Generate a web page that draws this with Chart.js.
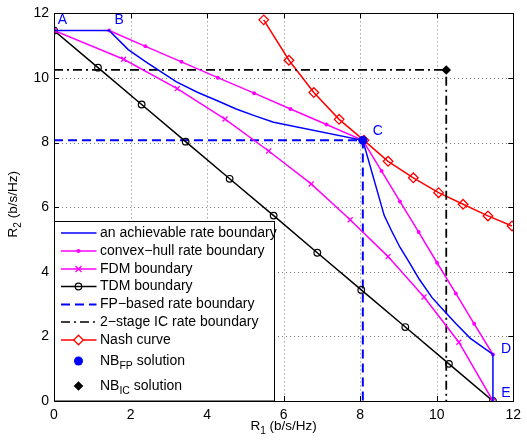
<!DOCTYPE html>
<html>
<head>
<meta charset="utf-8">
<script src="https://cdn.jsdelivr.net/npm/chart.js@4.4.0/dist/chart.umd.min.js"></script>
<style>
body { margin: 0; background: #fff; }
#wrap { width: 527px; height: 440px; }
</style>
</head>
<body>
<div id="wrap"><canvas id="rateChart"></canvas></div>
<script>
// rates in b/s/Hz, R1 on x, R2 on y
const achR1 = [0, 1.44, 1.94, 2.40, 2.73, 3.20, 3.76, 4.30, 4.76, 5.27, 5.74, 8.07, 8.63, 8.82, 9.04, 9.28, 9.55, 9.88, 10.24, 10.50, 10.88, 11.47, 11.47];
const achR2 = [11.47, 11.47, 10.88, 10.50, 10.24, 9.88, 9.55, 9.28, 9.04, 8.82, 8.63, 8.07, 5.74, 5.27, 4.76, 4.30, 3.76, 3.20, 2.73, 2.40, 1.94, 1.44, 0];

const hullR1 = [1.44, 2.39, 3.33, 4.28, 5.23, 6.18, 7.12, 8.07, 8.56, 9.04, 9.53, 10.01, 10.50, 10.98, 11.47];
const hullR2 = [11.47, 10.98, 10.50, 10.01, 9.53, 9.04, 8.56, 8.07, 7.12, 6.18, 5.23, 4.28, 3.33, 2.39, 1.44];

const fdmR1 = [0, 1.82, 3.22, 4.47, 5.61, 6.72, 7.74, 8.73, 9.67, 10.58, 11.47];
const fdmR2 = [11.47, 10.58, 9.67, 8.73, 7.74, 6.72, 5.61, 4.47, 3.22, 1.82, 0];

const tdmR1 = [0, 1.15, 2.29, 3.44, 4.59, 5.74, 6.88, 8.03, 9.18, 10.32, 11.47];
const tdmR2 = [11.47, 10.32, 9.18, 8.03, 6.88, 5.74, 4.59, 3.44, 2.29, 1.15, 0];

const fpR1 = [0, 8.07, 8.07];
const fpR2 = [8.07, 8.07, 0];

const icR1 = [0, 10.25, 10.25];
const icR2 = [10.25, 10.25, 0];

const nashR1 = [5.48, 6.14, 6.79, 7.45, 8.10, 8.73, 9.39, 10.05, 10.69, 11.34, 11.97];
const nashR2 = [11.80, 10.55, 9.55, 8.72, 8.07, 7.42, 6.91, 6.45, 6.09, 5.73, 5.42];

const nbFP = [8.07, 8.07];
const nbIC = [10.25, 10.25];

const tickVals = [0, 2, 4, 6, 8, 10, 12];
const seriesNames = ['an achievable rate boundary', 'convex\u2212hull rate boundary', 'FDM boundary', 'TDM boundary',
  'FP\u2212based rate boundary', '2\u2212stage IC rate boundary', 'Nash curve', 'NB_{FP} solution', 'NB_{IC} solution'];
const pointNames = ['A', 'B', 'C', 'D', 'E'];
const pointR1 = [0.22, 1.70, 8.46, 11.81, 11.81];
const pointR2 = [11.80, 11.80, 8.35, 1.61, 0.23];

const FONT = '"Liberation Sans", Arial, sans-serif';
const BLUE = '#0000ff', MAG = '#ff00ff', RED = '#ff0000', BLK = '#000000';

function pts(xs, ys) {
    return xs.map((v, i) => ({ x: v, y: ys[i] }));
}

// text with _{sub} parts, returns width
function subText(ctx, str, x, y, size, draw) {
    const parts = str.split(/_\{(.*?)\}/);
    let cx = x;
    parts.forEach((p, i) => {
        const sub = i % 2 === 1;
        ctx.font = (sub ? size * 0.75 : size) + 'px ' + FONT;
        if (draw) ctx.fillText(p, cx, sub ? y + size * 0.38 : y);
        cx += ctx.measureText(p).width;
    });
    return cx - x;
}

function mark(ctx, style, x, y) {
    ctx.save();
    ctx.setLineDash([]);
    ctx.beginPath();
    if (style === 'circle') {
        ctx.lineWidth = 1.2;
        ctx.arc(x, y, 3.3, 0, Math.PI * 2);
        ctx.stroke();
    } else if (style === 'dot') {
        ctx.arc(x, y, 2, 0, Math.PI * 2);
        ctx.fill();
    } else if (style === 'big') {
        ctx.arc(x, y, 4.5, 0, Math.PI * 2);
        ctx.fill();
    } else if (style === 'cross') {
        ctx.lineWidth = 1.3;
        ctx.moveTo(x - 3, y - 3); ctx.lineTo(x + 3, y + 3);
        ctx.moveTo(x + 3, y - 3); ctx.lineTo(x - 3, y + 3);
        ctx.stroke();
    } else if (style === 'diamond' || style === 'fdiamond') {
        const r = 4.8;
        ctx.lineWidth = 1.3;
        ctx.moveTo(x, y - r); ctx.lineTo(x + r, y); ctx.lineTo(x, y + r); ctx.lineTo(x - r, y); ctx.closePath();
        if (style === 'fdiamond') ctx.fill(); else { ctx.fillStyle = '#fff'; ctx.fill(); ctx.stroke(); }
    }
    ctx.restore();
}

const legendRows = [
    { color: BLUE, width: 1.5, dash: [], mark: null },
    { color: MAG, width: 1.5, dash: [], mark: 'dot' },
    { color: MAG, width: 1.5, dash: [], mark: 'cross' },
    { color: BLK, width: 1.5, dash: [], mark: 'circle' },
    { color: BLUE, width: 2, dash: [9, 5], mark: null },
    { color: BLK, width: 1.5, dash: [9, 4, 2, 4], mark: null },
    { color: RED, width: 1.5, dash: [], mark: 'diamond' },
    { color: BLUE, width: 0, dash: [], mark: 'big' },
    { color: BLK, width: 0, dash: [], mark: 'fdiamond' }
];
const legendY = [233, 251, 269, 286.5, 304.5, 322, 340, 361, 386];

const decor = {
    id: 'decor',
    beforeDatasetsDraw(chart) {
        const { ctx, chartArea: a, scales: { x, y } } = chart;
        ctx.save();
        ctx.strokeStyle = '#7a7a7a';
        ctx.lineWidth = 1;
        ctx.setLineDash([1, 3]);
        tickVals.forEach(v => {
            if (v <= 0 || v >= 12) return;
            const px = Math.round(x.getPixelForValue(v)) + 0.5;
            const py = Math.round(y.getPixelForValue(v)) + 0.5;
            ctx.beginPath();
            ctx.moveTo(px, a.top); ctx.lineTo(px, a.bottom);
            ctx.moveTo(a.left, py); ctx.lineTo(a.right, py);
            ctx.stroke();
        });
        ctx.restore();
    },
    afterDatasetsDraw(chart) {
        const { ctx, chartArea: a, scales: { x, y } } = chart;
        ctx.save();
        // point labels
        ctx.fillStyle = BLUE;
        ctx.font = '14px ' + FONT;
        ctx.textAlign = 'center';
        ctx.textBaseline = 'middle';
        pointNames.forEach((n, i) => {
            ctx.fillText(n, x.getPixelForValue(pointR1[i]), y.getPixelForValue(pointR2[i]));
        });

        // legend box
        const lx0 = a.left, lx1 = 274.5, ly0 = 221.5;
        ctx.fillStyle = '#fff';
        ctx.fillRect(lx0, ly0, lx1 - lx0, a.bottom - ly0);
        ctx.strokeStyle = BLK;
        ctx.lineWidth = 1;
        ctx.strokeRect(lx0 + 0.5, ly0, lx1 - lx0 - 0.5, a.bottom - ly0);
        ctx.textAlign = 'left';
        ctx.textBaseline = 'middle';
        legendRows.forEach((r, i) => {
            const ly = legendY[i];
            ctx.strokeStyle = r.color;
            ctx.fillStyle = r.color;
            if (r.width > 0) {
                ctx.lineWidth = r.width;
                ctx.setLineDash(r.dash);
                ctx.beginPath();
                ctx.moveTo(61, ly); ctx.lineTo(96.5, ly);
                ctx.stroke();
            }
            if (r.mark) mark(ctx, r.mark, 78.5, ly);
            ctx.fillStyle = '#000';
            subText(ctx, seriesNames[i], 100, ly, 14, true);
        });

        // frame and inner ticks
        ctx.setLineDash([]);
        ctx.strokeStyle = BLK;
        ctx.lineWidth = 1;
        ctx.strokeRect(Math.round(a.left) + 0.5, Math.round(a.top) + 0.5, Math.round(a.right - a.left), Math.round(a.bottom - a.top));
        ctx.beginPath();
        tickVals.forEach(v => {
            const px = Math.round(x.getPixelForValue(v)) + 0.5;
            const py = Math.round(y.getPixelForValue(v)) + 0.5;
            ctx.moveTo(px, a.top); ctx.lineTo(px, a.top + 5);
            if (px > 280) { ctx.moveTo(px, a.bottom); ctx.lineTo(px, a.bottom - 5); }
            ctx.moveTo(a.right, py); ctx.lineTo(a.right - 5, py);
            if (py < 220) { ctx.moveTo(a.left, py); ctx.lineTo(a.left + 5, py); }
        });
        ctx.stroke();
        ctx.restore();
    },
    afterDraw(chart) {
        const { ctx, chartArea: a } = chart;
        ctx.save();
        ctx.fillStyle = BLK;
        ctx.textAlign = 'left';
        ctx.textBaseline = 'middle';
        const t1 = 'R_{1} (b/s/Hz)';
        const w1 = subText(ctx, t1, 0, 0, 13.5, false);
        subText(ctx, t1, (a.left + a.right) / 2 - w1 / 2, 426, 13.5, true);
        const t2 = 'R_{2} (b/s/Hz)';
        const w2 = subText(ctx, t2, 0, 0, 13.5, false);
        ctx.translate(13, (a.top + a.bottom) / 2 - 3);
        ctx.rotate(-Math.PI / 2);
        subText(ctx, t2, -w2 / 2, 0, 13.5, true);
        ctx.restore();
    }
};

function line(name, xs, ys, color, extra) {
    return Object.assign({
        label: name,
        data: pts(xs, ys),
        showLine: true,
        borderColor: color,
        backgroundColor: color,
        borderWidth: 1.5,
        pointRadius: 0,
        tension: 0,
        fill: false
    }, extra);
}

const ctx = document.getElementById('rateChart').getContext('2d');
const rateChart = new Chart(ctx, {
    type: 'scatter',
    data: {
        datasets: [
            line('NB_FP', [nbFP[0]], [nbFP[1]], BLUE, { showLine: false, pointRadius: 4.5, pointStyle: 'circle', pointBorderWidth: 0, order: 0 }),
            line('NB_IC', [nbIC[0]], [nbIC[1]], BLK, { showLine: false, pointRadius: 4.8, pointStyle: 'rectRot', pointBorderWidth: 0, order: 1 }),
            line(seriesNames[0], achR1, achR2, BLUE, { order: 2 }),
            line(seriesNames[1], hullR1, hullR2, MAG, { pointRadius: 2, pointStyle: 'circle', pointBorderWidth: 0, order: 3 }),
            line(seriesNames[2], fdmR1, fdmR2, MAG, { pointRadius: 3.5, pointStyle: 'crossRot', pointBorderWidth: 1.3, pointBorderColor: MAG, order: 4 }),
            line(seriesNames[3], tdmR1, tdmR2, BLK, { pointRadius: 3.3, pointStyle: 'circle', pointBorderWidth: 1.2, pointBackgroundColor: 'rgba(0,0,0,0)', order: 5 }),
            line(seriesNames[4], fpR1, fpR2, BLUE, { borderWidth: 2, borderDash: [9, 5], order: 6 }),
            line(seriesNames[5], icR1, icR2, BLK, { borderWidth: 1.8, borderDash: [9, 4, 2, 4], order: 7 }),
            line(seriesNames[6], nashR1, nashR2, RED, { pointRadius: 4.8, pointStyle: 'rectRot', pointBorderWidth: 1.3, pointBackgroundColor: 'rgba(255,255,255,0)', order: 8 })
        ]
    },
    options: {
        responsive: true,
        maintainAspectRatio: false,
        animation: false,
        layout: { padding: { top: 9, right: 5, left: 0, bottom: 0 } },
        plugins: {
            legend: { display: false },
            tooltip: { enabled: false }
        },
        scales: {
            x: {
                type: 'linear',
                min: 0,
                max: 12,
                afterBuildTicks: s => { s.ticks = tickVals.map(v => ({ value: v })); },
                afterFit: s => { s.height = 39; },
                grid: { display: false, drawTicks: false },
                border: { display: false },
                ticks: { color: BLK, padding: 6, font: { family: FONT, size: 14 }, maxRotation: 0 }
            },
            y: {
                type: 'linear',
                min: 0,
                max: 12,
                afterBuildTicks: s => { s.ticks = tickVals.map(v => ({ value: v })); },
                afterFit: s => { s.width = 54; },
                grid: { display: false, drawTicks: false },
                border: { display: false },
                ticks: { color: BLK, padding: 5, font: { family: FONT, size: 14 } }
            }
        }
    },
    plugins: [decor]
});
</script>
</body>
</html>
